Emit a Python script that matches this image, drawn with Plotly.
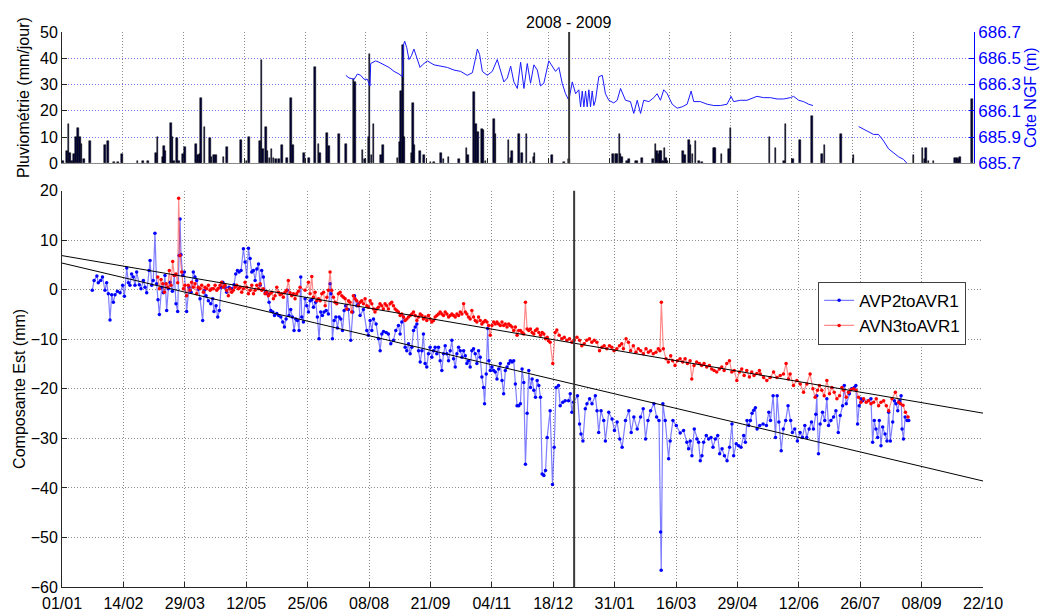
import plotly.graph_objects as go

# ---- time axis: days since 1 Jan 2008 ----
tick_days = [0, 44, 88, 132, 176, 220, 264, 308, 352, 396, 440, 484, 528, 572, 616, 660]
tick_labels = ["01/01", "14/02", "29/03", "12/05", "25/06", "08/08", "21/09", "04/11",
               "18/12", "31/01", "16/03", "29/04", "12/06", "26/07", "08/09", "22/10"]
split_day = 367
period_label = "2008 - 2009"

# ---- daily rainfall (mm/jour) ----
rain_day = [0.9, 3.4, 4.6, 5.8, 7.2, 8.9, 10.1, 11.6, 12.8, 14.2, 16.1, 20.2, 31.1, 33.5, 37.8, 40.3,
            43.2, 54.7, 58.4, 62, 68, 69.2, 73.2, 74, 74.7, 79, 80, 81.2, 83.2, 84.8, 87.5, 88.9,
            97.1, 98.6, 99.8, 100.5, 103.2, 107, 108.2, 110.1, 111.4, 116.9, 119.5, 129.4, 133.5,
            135.4, 143.4, 144.4, 145.6, 147.5, 148.7, 150.2, 151.6, 153.1, 154.7, 157.1, 159.1,
            162.7, 165.6, 167, 175.2, 178.8, 182.9, 185.6, 186.6, 191.6, 193.3, 200.5, 205.4,
            210.9, 211.9, 217.4, 219.1, 221.8, 222.5, 223.9, 225.4, 230.7, 232.1, 242.7, 244.4,
            245.3, 246.8, 247.5, 252.9, 253.8, 254.7, 259.1, 262, 266.8, 269.2, 274.5, 276,
            279.8, 287.3, 292.8, 293.8, 298.1, 299.6, 301, 303.9, 304.9, 306.6, 312.6, 313.8,
            323.2, 324.7, 325.9, 330.7, 333.1, 336.2, 339.1, 341.1, 342, 354.8, 363.2, 366.8,
            398.9, 400.6, 401.8, 403.5, 404.2, 405.4, 409, 410.5, 415, 416.3, 419.9, 427.6,
            429.5, 430.7, 431.7, 432.6, 433.6, 435.1, 436, 437.2, 437.9, 449.5, 450.7, 453.6,
            454.8, 456.3, 458.4, 460.8, 463.3, 471.7, 472.4, 477.2, 482.5, 483.7, 512.1, 516.3,
            522.3, 523.5, 529.1, 534.3, 542.8, 550, 551.7, 563.8, 572.9, 616.3, 622.8, 624.2,
            625.5, 627.2, 630.7, 646.4, 647.7, 648.8, 650, 658.5]
rain_mm = [1, 4.5, 15, 4, 1, 3.5, 10, 13.5, 10, 7.5, 1.5, 8.5, 7, 8.5, 0.5, 0.5,
           3.5, 1, 1, 1, 4, 10, 2.5, 6.5, 4.5, 15.5, 10, 1, 9.5, 1, 3.5, 6.3,
           7.5, 3, 3.5, 25, 14, 9.5, 2.5, 3, 3, 2.5, 6.3, 8.7, 1,
           10, 8.5, 39.5, 5.5, 14, 4.5, 2, 5.5, 2, 1.5, 1.5, 7,
           2, 25, 7, 4, 2, 36.5, 7.5, 4, 11.5, 6.5, 11, 7.5,
           32, 31, 5, 1.5, 10, 41.5, 3, 15, 3, 7, 2, 8,
           27.5, 45, 10, 4, 23, 7, 4.5, 3, 0.5, 0.5, 4, 1.5,
           2.5, 1.5, 6, 3, 27, 15, 12, 13, 12.5, 1, 17, 11,
           9, 2, 4.5, 11, 4, 11, 0.5, 2.5, 4, 3, 0.5, 1.5,
           3.5, 3.5, 3.5, 11, 3.5, 2.5, 1, 1.5, 1, 1, 2, 1.5,
           7.5, 4.5, 3.5, 4.5, 4.5, 1, 6, 2, 1, 4.5, 3, 9,
           7, 3.5, 8.5, 1, 0.5, 6, 6, 3.5, 5.5, 13.5, 10, 6,
           1, 15, 1.5, 9, 18, 3.5, 7, 11, 3, 3, 6, 1.5,
           6, 1, 1, 2, 2, 1.5, 2.5, 24.5]

# ---- water level, Cote NGF (m); None marks the gap in the record ----
level_day = [205.4, 207.7, 211.4, 213.8, 216.2, 218.6, 221, 222.9, 223.4, 227, 229.4, 233, 236.7,
             240.3, 243.9, 246.3, 247.1, 248, 249.5, 251.1, 252.9, 254.7, 257.2, 259.1, 260.8,
             264.4, 269.2, 274, 278.9, 283.7, 288.5, 293.3, 297, 299.3, 300.6, 302.2, 304.2,
             307.8, 311.4, 315, 317.4, 319.8, 322.3, 324.7, 327, 329.5, 331.9, 334.3, 336.7,
             339.1, 341.5, 344, 346.3, 348.7, 352.3, 354.8, 357.2, 359.6, 362, 364.4, 366.8,
             369.3, 371.7, 374, 375.3, 376.5, 377.7, 378.9, 380.1, 381.3, 382.5, 383.7, 384.9,
             386.1, 388.5, 391, 393.3, 395.7, 399.3, 401.8, 404.2, 407.8, 411.4, 413.8, 416.3,
             418.7, 421, 424.7, 428.3, 430.7, 433.1, 435.5, 438, 441.6, 445.2, 448.8, 452.4,
             455.3, 457.2, 462, 466.9, 471.7, 476.5, 481.3, 484.2, 486.1, 491, 495.8, 500.6,
             503, 507.8, 512.7, 517.5, 522.3, 527.1, 529.5, 533.1, 536.7, 540.3, 543.5, 560,
             576.5, 580.1, 583.7, 587.3, 590.9, 594.6, 598.2, 601.8, 605.4, 609, 611.5]
level_m = [686.37, 686.35, 686.34, 686.38, 686.37, 686.34, 686.34, 686.29, 686.46, 686.48, 686.47,
           686.45, 686.43, 686.40, 686.38, 686.36, 686.60, 686.63, 686.58, 686.49, 686.52, 686.57,
           686.49, 686.43, 686.45, 686.48, 686.45, 686.44, 686.43, 686.41, 686.40, 686.37, 686.39,
           686.50, 686.57, 686.53, 686.40, 686.37, 686.40, 686.49, 686.40, 686.32, 686.35, 686.44,
           686.32, 686.27, 686.47, 686.27, 686.46, 686.31, 686.45, 686.41, 686.29, 686.31, 686.48,
           686.44, 686.40, 686.43, 686.31, 686.23, 686.18, 686.32, 686.23, 686.26, 686.13, 686.25,
           686.13, 686.25, 686.13, 686.26, 686.13, 686.25, 686.14, 686.18, 686.36, 686.37, 686.23,
           686.18, 686.16, 686.18, 686.27, 686.18, 686.17, 686.08, 686.18, 686.08, 686.18, 686.17,
           686.20, 686.23, 686.18, 686.26, 686.23, 686.15, 686.12, 686.13, 686.15, 686.25, 686.17,
           686.17, 686.15, 686.14, 686.14, 686.15, 686.21, 686.17, 686.18, 686.18, 686.20, 686.21,
           686.20, 686.20, 686.19, 686.19, 686.20, 686.21, 686.18, 686.17, 686.15, 686.14, None,
           685.98, 685.96, 685.94, 685.92, 685.92, 685.87, 685.81, 685.78, 685.75, 685.73, 685.70]

# ---- AVP2toAVR1, east component (mm) ----
avp2_day = [21.7, 23, 25, 26, 27.7, 29, 30.8, 32, 33.2, 34.4,
            35.6, 36.8, 38, 39.7, 41.6, 43.5, 44.7, 46.4, 47.6, 48.7,
            49.9, 51.1, 52.3, 53.5, 55.4, 56.6, 58.3, 59.5, 60.7, 62.4,
            63.1, 64.3, 65.4, 66.6, 67.8, 68.8, 69.8, 71.4, 72.6, 73.8,
            75, 76.2, 77.4, 79.1, 80.5, 81.7, 82.9, 83.9, 84.6, 85.3,
            86.5, 87.7, 89.3, 91, 92.5, 94.1, 95.3, 96.5, 97.7, 98.9,
            100.8, 102, 103.2, 104.9, 106.6, 108, 108.9, 110.4, 111.6, 112.8,
            114, 115.2, 116.9, 118, 119.7, 121.6, 123.3, 124.5, 125.7, 126.9,
            128.3, 130, 131.2, 132.4, 133.6, 134.8, 136, 137.2, 138.4, 139.6,
            140.8, 142, 143.1, 144.3, 145.8, 147.2, 148.4, 149.6, 151.1, 152.3,
            153.9, 155.3, 156.8, 158.2, 159.4, 160.6, 161.5, 162.7, 163.9, 165.1,
            166.3, 167.5, 168.7, 169.9, 171.1,
            171.8, 173, 174.2, 175.4, 176.6, 177.8, 179, 180.2, 181.8, 183,
            184.2, 185.4, 186.6, 187.8, 189.3, 190.9, 192.1, 192.8, 193.8, 195,
            196.2, 197.4, 198.6, 199.8, 201, 202.2, 203.3, 205.2, 206.9, 208.4,
            209.6, 211.3, 212.5, 213.6, 216, 218.4, 219.6, 220.8, 222, 223.2,
            225.1, 226.8, 228, 229.2, 230.4, 232.3, 233.9, 235.6, 237.5, 239.2,
            241.1, 242.3, 243.5, 244.7, 245.9, 247.1, 248.3, 249.5, 250.7, 251.9,
            253.1, 254.3, 255.5, 256.7, 257.9, 259, 260.2, 261.4, 262.6, 263.8,
            265, 266.2, 267.4, 268.6, 269.8, 271, 272.2, 273.4, 274.6, 275.8,
            277, 278.2, 279.4, 280.6, 281.8, 283, 284.2, 285.4, 286.6, 287.8,
            289, 290.1, 291.3, 292.5, 293.7, 294.9, 296.1, 297.3, 298.5, 299.7,
            300.9, 302.1, 302.8, 304, 305, 305.9, 306.9, 308.1, 309.3, 310.5,
            311.7, 312.9, 314.1, 315.3, 316.5, 317.7, 318.9, 320.1, 321.3, 322.5,
            323.7, 324.9, 326.1, 327.3, 328.5, 329.7, 330.9, 332.1, 333.3, 334.5,
            335.7, 336.9, 338.1, 339.3, 340.5, 341.7, 342.9, 344.1, 345.3, 346.5,
            347.7,
            349.8, 351.5, 352.7, 354.1, 355.8, 357, 358.9, 360.6, 363, 364.2,
            365.4, 366.6, 369.4, 370.9, 371.9, 373.3, 375, 376.2, 378.1, 379.8,
            382.2, 383.4, 384.6, 386.3, 388.2, 389.4, 391.8, 394.2, 395.9, 397.8,
            399.7, 401.4, 403.8, 406.2, 407.9, 409.8, 412.2, 414.6, 416.5, 418.2,
            419.9, 421.8, 424.2, 426.1, 427.8, 429, 429.4, 430.6, 432.3, 434.7,
            435.8, 437.8, 440.2,
            443, 445.4, 447.8, 449, 450.2, 451.4, 453.1, 455, 456.2, 457.4,
            458.6, 459.8, 461.7, 463.4, 465.1, 466.5, 468.2, 469.9, 471.3, 473,
            474.7, 476.6, 478.4, 480.1, 481.3, 483.2, 484.9, 486.6, 488.5, 489.7,
            490.9, 492.1, 493.3, 494.5, 495.7, 496.9, 498.1, 500, 502.4, 504.8,
            506.5, 507.7, 509.6, 511.3, 512.5, 513.7, 515.4, 516.9, 518.6, 520.3,
            522.2, 523.4, 525.1, 527, 528.9, 530.6, 532.3, 533.7, 535.4, 537.1,
            538.5, 540.2, 540.9, 542.1, 543.3, 545, 546.6, 548.1, 549.3, 551,
            552.9, 554.6, 556.3, 557.7, 559.4, 560.6, 562, 564.2, 565.8, 567.7,
            568.9, 570.1, 571.3, 572.5, 573.7, 579.7, 580.9, 582.1, 583.3, 584.5,
            585.7, 586.9, 588.1, 589.8, 591.2, 592.4, 593.6, 595.3, 596.5, 597.7,
            598.9, 600.1, 601.3, 602, 603, 604.2, 605.6, 606.8]
avp2_val = [-0.1, 1.9, 2.8, 1.4, 1.9, 2.6, -0.1, 1.4, -0.8, -6.1,
            -1.0, -2.5, -1.0, -0.3, -0.6, 0.9, -1.3, 4.4, 1.4, 0.9,
            3.2, 2.6, 0.9, 3.6, 1.0, 0.2, 1.9, 0.5, -0.6, 3.9,
            5.9, 0.9, 1.9, 11.4, 1.2, -2.0, -5.0, 0.5, -0.6, 2.9,
            -4.2, 0.2, 1.5, -0.3, 2.9, -2.8, -4.4, 6.9, 14.3, 7.1,
            2.9, 3.6, -4.4, 0.5, -0.5, 3.6, 2.6, 1.9, 0.1, -1.8,
            -6.2, -0.1, -1.2, -2.2, -2.8, -1.8, -4.4, -3.2, -5.5, -4.2,
            0.5, 1.5, 0.5, -0.5, 0.5, 0.2, 1.0, 3.2, 3.9, 3.6,
            3.9, 8.3, 5.6, 2.6, 8.4, 6.3, 3.6, 3.9, 1.9, 4.2,
            5.2, 0.9, 3.9, 2.6, -0.5, -0.8, -2.5, -4.2, -4.5, -5.2,
            -4.8, -5.2, -5.5, -6.5, -7.5, -5.9, -0.1, -5.2, -4.0, -5.5,
            -8.2, -5.9, -6.2, -8.2, 2.6,
            -5.5, -6.5, -1.8, -3.2, -4.5, -2.2, -2.0, -3.5, -2.5, -5.5,
            -9.9, -4.5, -5.2, -4.5, -4.2, -4.9, 1.2, -0.8, -9.9, -6.2,
            -5.5, -7.7, -5.5, -5.9, -8.2, -4.2, -3.2, -4.0, -10.2, -4.5,
            -1.2, -3.2, -2.8, -5.2, -4.0, -8.2, -9.2, -6.2, -8.2, -5.9,
            -6.9, -9.9, -12.3, -8.9, -8.4, -8.6, -8.9, -10.9, -10.2, -8.2,
            -7.2, -8.9, -6.5, -5.5, -11.6, -12.3, -10.9, -12.9, -11.6, -8.2,
            -7.5, -6.9, -12.3, -14.6, -12.3, -8.9, -14.9, -15.6, -12.9, -11.6,
            -13.6, -12.3, -11.6, -12.9, -11.6, -14.3, -16.3, -12.9, -11.3, -12.9,
            -14.3, -12.3, -10.2, -13.9, -15.6, -12.9, -11.6, -12.3, -13.6, -12.3,
            -13.3, -14.9, -14.3, -15.6, -12.3, -11.9, -12.9, -14.9, -12.3, -13.6,
            -17.6, -19.7, -23.0, -17.0, -7.8, -14.3, -16.3, -15.6, -16.3, -16.6,
            -18.0, -16.0, -14.9, -18.3, -21.0, -16.3, -15.6, -14.9, -14.3, -14.6,
            -14.3, -19.0, -23.4, -23.4, -23.0, -16.0, -18.7, -35.2, -24.9, -16.3,
            -19.7, -18.0, -20.3, -21.7, -18.3, -19.3, -21.7, -37.2, -37.5, -36.5,
            -29.8,
            -24.4, -39.3, -31.8, -19.7, -19.3, -23.4, -22.7, -22.4, -22.4, -21.0,
            -24.7, -22.7, -21.4, -27.1, -29.1, -30.5, -24.0, -23.0, -22.0, -23.0,
            -21.4, -24.4, -28.8, -24.4, -26.4, -30.5, -24.7, -26.1, -28.4, -26.7,
            -30.1, -31.8, -26.4, -24.4, -28.8, -25.7, -28.1, -25.7, -24.0, -30.1,
            -26.4, -24.4, -23.0, -25.7, -26.4, -48.9, -56.6, -23.0, -26.4, -34.1,
            -30.5, -26.4, -27.4,
            -28.9, -28.4, -30.8, -32.1, -30.5, -33.5, -28.1, -30.1, -30.8, -34.5,
            -33.5, -30.8, -29.4, -30.1, -29.8, -31.8, -30.1, -29.4, -33.1, -32.1,
            -33.5, -34.5, -31.8, -27.1, -33.5, -31.1, -31.5, -31.8, -29.4, -30.8,
            -26.4, -27.4, -26.4, -24.9, -24.3, -23.8, -28.1, -27.4, -27.1, -27.4,
            -24.7, -26.4, -21.4, -29.8, -21.4, -26.7, -32.5, -28.1, -26.4, -23.4,
            -26.4, -28.8, -28.1, -30.5, -28.8, -29.8, -27.4, -29.8, -28.1, -26.7,
            -28.1, -25.1, -21.4, -33.1, -27.1, -24.7, -26.4, -22.0, -27.4, -26.4,
            -25.7, -24.4, -28.8, -25.4, -23.4, -19.3, -23.0, -21.0, -20.0, -19.7,
            -19.3, -27.1, -23.4, -22.0, -22.4, -22.0, -30.8, -26.4, -28.1, -29.8,
            -26.4, -31.5, -27.7, -29.1, -30.5, -24.7, -30.5, -26.7, -22.4, -23.0,
            -24.4, -22.4, -21.4, -28.1, -30.1, -25.7, -26.4, -26.4]

# ---- AVN3toAVR1, east component (mm) ----
avn3_day = [68.6, 69.8, 71, 72.2, 73.4, 74.6, 75.8, 76.9, 78.1, 79.3,
            80.5, 81.7, 82.9, 83.6, 84.6, 85.8, 87, 88.1, 89.3, 90.5,
            91.7, 92.9, 94.1, 95.3, 96.5, 97.7, 98.9, 100.1, 101.3, 102.5,
            103.7, 104.9, 106.1, 107.3, 108.5, 109.7, 110.9, 112.1, 113.3, 114.4,
            115.6, 116.8, 118, 119.2, 120.4, 121.6, 122.8, 124, 125.2, 126.4,
            127.6, 128.8, 130, 131.2, 132.4, 133.6, 134.8, 136, 137.2, 138.4,
            139.6, 140.8, 142, 143.1, 144.3, 145.5, 146.7, 147.9, 149.1, 150.3,
            151.5, 152.7, 153.9, 155.1, 156.3, 157.4, 158.6, 159.8, 161, 162.2,
            163.4, 164.6, 165.8, 167, 168.2, 169.4,
            170.6, 174.2, 176.6, 177.8, 179, 180.2, 181.4, 182.6, 183.8, 185,
            186.2, 187.4, 188.6, 189.8, 190.9, 192.1, 193.3, 194.5, 195.7, 196.9,
            198.1, 199.3, 200.5, 201.7, 202.9, 204.1, 205.3, 206.4, 207.6, 208.8,
            210, 211.2, 212.4, 213.6, 214.8, 216, 217.2, 218.4, 219.6, 220.8,
            222, 223.2, 224.3, 225.5, 226.7, 227.9, 229.1, 230.3, 231.5, 232.7,
            233.9, 235.1, 236.3, 237.5, 238.7, 239.9, 241.1, 242.3, 243.5, 244.7,
            245.9, 247.1, 248.3, 249.5, 250.7, 251.9, 253.1, 254.3, 255.5, 256.7,
            257.9, 259, 260.2, 261.4, 262.6, 263.8, 265, 266.2, 267.4, 268.6,
            269.8, 271, 272.2, 273.4, 274.6, 275.8, 277, 278.2, 279.4, 280.6,
            281.8, 283, 284.2, 285.4, 286.6, 287.8, 289, 290.1, 291.3, 292.5,
            293.7, 294.9, 296.1, 297.3, 298.5, 299.7, 300.9, 302.1, 303.3, 304.5,
            305.7, 306.9, 308.1, 309.3, 310.5, 311.7, 312.9, 314.1, 315.3, 316.5,
            317.7, 318.9, 320.1, 321.3, 322.5, 323.7, 324.9, 326.1, 327.3, 328.5,
            329.7, 330.9, 332.1, 333.3, 334.5, 335.7, 336.9, 338.1, 339.3, 340.5,
            341.7, 342.9, 344.1, 345.3, 346.5, 347.7,
            348.6, 349.8, 351.7, 353.4, 354.6, 356.3, 358.2, 359.9, 361.8, 363.7,
            365.4, 367, 369, 370.9, 372.5, 374.2, 376.1, 378, 379.7, 381.4,
            383.3, 385.2, 386.9, 388.5, 390.4, 392.3, 394, 395.6, 397.6, 399.5,
            401.1, 402.3, 404.2, 405.9, 407.5, 409.4, 411.3, 413, 414.7, 416.6,
            418.5, 420.2, 421.8, 423.7, 425.6, 427.3, 428.5, 429.5, 430.9, 432.8,
            434.5, 436.2, 437.6, 439.3, 441, 442.9, 444.8, 446.5, 448.2, 450.1,
            451.3, 452.9, 454.8, 456.7, 458.4, 460.1, 462, 463.9, 465.6, 467.3,
            469.2, 471.1, 472.8, 474.5, 476.4, 478.3, 480, 481.7, 483.6, 485.5,
            487.1, 488.8, 490.7, 492.6, 494.3, 495.9, 497.9, 499.8,
            500.4, 502.8, 505.1, 507.5, 509.9, 512.3, 514.7, 517, 518.9, 520.6,
            521.8, 524.2, 526.6, 529, 531.4, 533.8, 536.1, 538.1, 539.7, 541.4,
            542.8, 544.5, 546.2, 548.1, 550, 551.7, 553.4, 555.3, 557.2, 558.9,
            560.1, 562, 563.6, 565.3, 567.2, 569.1, 570.8, 572.5, 574.4, 576.3,
            578, 579.7, 581.6, 583.5, 585.2, 586.9, 588.8, 590.7, 592.4,
            594.8, 597.2, 599.6, 600.8, 602.7, 604.4, 606.3]
avn3_val = [2.6, 0.2, 2.1, 1.2, -0.5, 1.2, 0.5, 3.9, 0.9, 5.7,
            2.9, 3.2, 1.4, 18.5, 6.9, 3.6, 0.2, 0.9, -1.2, 0.9,
            -0.1, 1.5, 0.5, 1.2, -0.8, 0.5, 0.2, 0.9, -0.5, 0.5,
            0.2, 0.9, -0.1, 0.2, 0.2, 0.9, -0.1, 0.3, 0.9, 1.5,
            0.5, 0.9, -0.1, -1.2, 0.2, -0.5, -0.1, 0.5, 0.9, 0.2,
            0.5, -0.5, 0.2, 1.5, 0.5, -0.8, -0.1, 0.9, -0.8, -0.1,
            0.9, 0.2, 1.2, -0.1, 0.2, -0.8, -0.5, -1.2, -0.8, -0.5,
            -1.8, -1.2, 0.5, -0.5, -1.0, -0.8, -1.5, -0.5, -0.1, 1.9,
            -0.6, -1.2, -0.8, -1.8, -0.8, -0.3,
            0.5, -0.1, 1.5, -0.8, 2.7, -1.5, -0.5, -2.2, -1.8, -2.2,
            -0.8, -0.5, -3.2, -1.5, -0.1, 3.6, -0.1, -1.5, -2.5, -2.8,
            -0.8, -0.5, -1.2, -1.5, -1.8, -3.9, -2.2, -2.5, -4.5, -1.2,
            -1.8, -2.2, -3.2, -2.5, -2.2, -2.8, -1.8, -3.2, -3.5, -2.2,
            -2.8, -3.9, -4.5, -3.9, -3.5, -2.8, -3.2, -3.9, -2.8, -3.2,
            -3.9, -2.8, -2.5, -3.2, -3.9, -4.2, -4.5, -5.2, -4.9, -5.5,
            -6.2, -5.9, -5.5, -5.2, -4.9, -4.5, -5.2, -6.2, -5.5, -4.9,
            -5.2, -5.9, -5.5, -6.2, -5.2, -5.9, -6.5, -6.2, -5.5, -5.2,
            -4.9, -4.5, -4.9, -5.2, -4.5, -4.9, -5.5, -5.2, -4.9, -5.2,
            -5.5, -4.9, -5.2, -4.5, -4.9, -2.8, -4.5, -4.9, -5.5, -5.9,
            -4.2, -5.5, -6.2, -6.5, -5.5, -6.2, -6.9, -6.5, -6.2, -6.5,
            -7.2, -9.2, -7.2, -6.5, -6.9, -6.5, -6.9, -7.2, -6.5, -7.2,
            -6.9, -7.5, -6.9, -7.2, -7.5, -8.2, -7.5, -9.2, -8.2, -8.2,
            -8.6, -8.9, -2.5, -7.9, -8.2, -7.9, -8.6, -8.9, -8.2, -7.9,
            -8.6, -9.2, -8.6, -8.9, -9.9, -9.6,
            -10.3, -10.6, -14.9, -8.6, -8.1, -9.2, -9.9, -9.6, -10.2, -9.9,
            -10.6, -10.2, -9.6, -10.2, -11.3, -10.9, -10.2, -9.9, -10.6, -10.2,
            -10.6, -12.3, -11.6, -11.3, -11.9, -11.3, -11.6, -12.3, -11.9, -11.3,
            -10.9, -11.9, -9.9, -10.6, -12.3, -11.3, -12.6, -11.9, -12.3, -12.9,
            -11.9, -12.6, -12.3, -12.9, -12.6, -11.9, -12.3, -2.5, -11.9, -13.9,
            -14.6, -13.3, -14.3, -15.3, -14.3, -13.9, -14.6, -13.9, -14.9, -14.3,
            -18.0, -15.3, -14.6, -14.9, -15.3, -14.9, -15.6, -15.3, -16.0, -16.3,
            -16.6, -16.0, -15.6, -16.3, -14.9, -14.3, -16.6, -16.3, -18.3, -16.6,
            -16.0, -17.3, -16.3, -17.6, -16.6, -17.3, -16.9, -16.3,
            -17.0, -17.7, -18.3, -17.7, -16.6, -17.7, -17.3, -17.0, -14.9, -18.0,
            -17.0, -19.3, -18.3, -19.0, -20.7, -19.0, -17.0, -20.0, -21.7, -20.3,
            -19.3, -20.3, -21.4, -18.3, -21.0, -19.7, -20.7, -22.0, -21.4, -19.7,
            -20.3, -21.7, -20.7, -20.2, -20.0, -20.3, -21.7, -22.7, -22.0, -22.7,
            -22.4, -23.0, -22.7, -22.0, -23.4, -22.7, -22.4, -23.4, -24.4,
            -22.0, -20.7, -22.7, -23.0, -23.3, -24.7, -25.7]

# ---- linear trends (end points at 01/01 and 22/10) ----
trend_day = [0, 660]
trend_avn3 = [6.9, -24.9]
trend_avp2 = [5.4, -38.6]

FONT = "Liberation Sans, Arial, Helvetica, sans-serif"
GRID = "#8c8c8c"
AXIS = "#262626"
DOT = "1px,2px"

fig = go.Figure()

fig.add_trace(go.Bar(
    x=rain_day, y=rain_mm, xaxis="x2", yaxis="y2", width=1.2,
    marker=dict(color="#00003a", line=dict(color="#000000", width=0.5)),
    showlegend=False, hoverinfo="x+y"))
fig.add_trace(go.Scatter(
    x=level_day, y=level_m, xaxis="x2", yaxis="y3", mode="lines",
    line=dict(color="#1a1aff", width=1), connectgaps=False, showlegend=False))

fig.add_trace(go.Scatter(
    x=avp2_day, y=avp2_val, mode="lines+markers", name="AVP2toAVR1",
    line=dict(color="rgba(40,40,255,0.6)", width=1.2),
    marker=dict(color="#0000ff", size=3.5)))
fig.add_trace(go.Scatter(
    x=avn3_day, y=avn3_val, mode="lines+markers", name="AVN3toAVR1",
    line=dict(color="rgba(255,40,40,0.55)", width=1.2),
    marker=dict(color="#ff0000", size=3.5)))

for tv in (trend_avn3, trend_avp2):
    fig.add_trace(go.Scatter(x=trend_day, y=tv, mode="lines",
                             line=dict(color="#000000", width=1), showlegend=False))

common_x = dict(range=[0, 660], tickvals=tick_days, ticks="inside", ticklen=5,
                tickcolor=AXIS, showgrid=True, gridcolor=GRID, griddash=DOT,
                gridwidth=1, zeroline=False, automargin=False)

fig.update_layout(
    width=1053, height=615,
    margin=dict(l=62, r=70, t=32, b=28, autoexpand=False),
    paper_bgcolor="white", plot_bgcolor="white",
    font=dict(family=FONT, size=16, color="#000000"),
    bargap=0,
    xaxis=dict(domain=[0, 1], anchor="y", ticktext=tick_labels, showline=True,
               linecolor=AXIS, linewidth=1, tickfont=dict(size=16), ticklabelstandoff=2,
               **common_x),
    yaxis=dict(domain=[0, 0.714], anchor="x", range=[-60, 20], automargin=False,
               tickvals=list(range(-60, 21, 10)), ticks="inside", ticklen=5, tickcolor=AXIS,
               showline=True, linecolor=AXIS, linewidth=1, showgrid=True, gridcolor=GRID,
               griddash=DOT, zeroline=False, tickfont=dict(size=16),
               title=dict(text="Composante Est (mm)", font=dict(size=16), standoff=1)),
    xaxis2=dict(domain=[0, 0.9902], anchor="y2", showticklabels=False, showline=True,
                linecolor="#8a8a8a", linewidth=1, **common_x),
    yaxis2=dict(domain=[0.7634, 1], anchor="x2", range=[0, 50], tickvals=[0, 10, 20, 30, 40, 50],
                automargin=False,
                ticks="inside", ticklen=5, tickcolor=AXIS, showline=True, linecolor=AXIS,
                linewidth=1, showgrid=True, gridcolor="rgba(80,80,255,0.8)", griddash=DOT,
                zeroline=False, tickfont=dict(size=16),
                title=dict(text="Pluviométrie (mm/jour)", font=dict(size=16), standoff=6)),
    yaxis3=dict(overlaying="y2", anchor="x2", side="right", range=[685.7, 686.7],
                automargin=False,
                tickvals=[685.7, 685.9, 686.1, 686.3, 686.5, 686.7], tickformat=".1f",
                ticks="inside", ticklen=5, tickcolor="#0000ff", showline=True,
                linecolor="#0000ff", linewidth=1, showgrid=False, zeroline=False,
                tickfont=dict(size=17, color="#0000ff"),
                title=dict(text="Cote NGF (m)", font=dict(size=16, color="#0000ff"), standoff=4)),
    legend=dict(x=0.821, y=0.55, xanchor="left", yanchor="top", bgcolor="white",
                bordercolor="#404040", borderwidth=1, font=dict(size=17),
                tracegroupgap=2),
    shapes=[
        dict(type="line", xref="x", yref="y domain", x0=split_day, x1=split_day, y0=0, y1=1,
             line=dict(color="#3a3a3a", width=2)),
        dict(type="line", xref="x2", yref="y2 domain", x0=split_day, x1=split_day, y0=0, y1=1,
             line=dict(color="#3a3a3a", width=2)),
    ],
    annotations=[
        dict(text=period_label, x=split_day, xref="x2", y=1, yref="y2 domain",
             yanchor="bottom", showarrow=False, font=dict(size=16), yshift=-1),
    ],
)

fig.write_html("out.html")
